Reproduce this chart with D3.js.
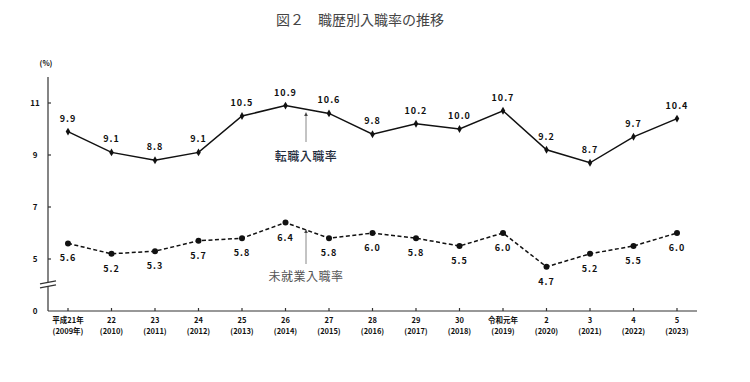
<!DOCTYPE html>
<html>
<head>
<meta charset="utf-8">
<script src="https://cdn.jsdelivr.net/npm/d3@7"></script>
<style>
  body { margin: 0; background: #fff; }
  svg { display: block; }
</style>
</head>
<body>
<svg width="750" height="382"></svg>
<script>
const years1 = ['平成21年', '22', '23', '24', '25', '26', '27', '28', '29', '30', '令和元年', '2', '3', '4', '5'];
const years2 = ['(2009年)', '(2010)', '(2011)', '(2012)', '(2013)', '(2014)', '(2015)', '(2016)',
  '(2017)', '(2018)', '(2019)', '(2020)', '(2021)', '(2022)', '(2023)'];
const tenshoku = [9.9, 9.1, 8.8, 9.1, 10.5, 10.9, 10.6, 9.8, 10.2, 10.0, 10.7, 9.2, 8.7, 9.7, 10.4];
const mishugyo = [5.6, 5.2, 5.3, 5.7, 5.8, 6.4, 5.8, 6.0, 5.8, 5.5, 6.0, 4.7, 5.2, 5.5, 6.0];
const yTicks = [0, 5, 7, 9, 11];

const svg = d3.select('svg');
const font = '"Noto Sans CJK JP", "Noto Sans", sans-serif';
const ink = '#111';

// axis break: 0 .. 4 squeezed, 4 .. 12 linear
const y = d3.scaleLinear().domain([0, 4, 12]).range([311, 285, 77]);
const x = d3.scalePoint().domain(d3.range(years1.length)).range([68, 677]);
const x0 = 48, x1 = 697;

svg.append('text')
  .attr('x', 360).attr('y', 25)
  .attr('text-anchor', 'middle')
  .attr('font-family', font)
  .attr('font-size', 14)
  .attr('fill', '#444')
  .text('図２　職歴別入職率の推移');

// y axis with break
const ax = svg.append('g').attr('stroke', '#333').attr('stroke-width', 1.2);
const brTop = y(4.1), brBot = y(3.8);
ax.append('line').attr('x1', x0).attr('x2', x0).attr('y1', y(12)).attr('y2', brTop);
ax.append('line').attr('x1', x0).attr('x2', x0).attr('y1', brBot).attr('y2', y(0));
[brTop, brBot].forEach(b => {
  ax.append('line')
    .attr('x1', x0 - 8).attr('x2', x0 + 8)
    .attr('y1', b + 1.5).attr('y2', b - 1.5);
});
ax.append('line').attr('x1', x0).attr('x2', x1).attr('y1', y(0)).attr('y2', y(0));

yTicks.forEach(t => {
  if (t > 0) {
    ax.append('line').attr('x1', x0).attr('x2', x0 + 3).attr('y1', y(t)).attr('y2', y(t));
  }
  svg.append('text')
    .attr('x', 35).attr('y', y(t) + 3)
    .attr('text-anchor', 'middle')
    .attr('font-family', font)
    .attr('font-weight', 700)
    .attr('font-size', 8)
    .attr('fill', ink)
    .text(t);
});
svg.append('text')
  .attr('x', 46).attr('y', 66)
  .attr('text-anchor', 'middle')
  .attr('font-family', font)
  .attr('font-weight', 700)
  .attr('font-size', 7.5)
  .attr('fill', ink)
  .text('(%)');

// x ticks and labels
years1.forEach((d, i) => {
  ax.append('line').attr('x1', x(i)).attr('x2', x(i)).attr('y1', y(0)).attr('y2', y(0) - 3);
  const t = svg.append('text')
    .attr('text-anchor', 'middle')
    .attr('font-family', font)
    .attr('font-weight', 700)
    .attr('font-size', 7.5)
    .attr('fill', ink);
  t.append('tspan').attr('x', x(i)).attr('y', 323).text(d);
  t.append('tspan').attr('x', x(i)).attr('y', 334).text(years2[i]);
});

// series lines
const line = d3.line().x((d, i) => x(i)).y(d => y(d));
svg.append('path')
  .datum(tenshoku)
  .attr('d', line)
  .attr('fill', 'none')
  .attr('stroke', ink)
  .attr('stroke-width', 1.5);
svg.append('path')
  .datum(mishugyo)
  .attr('d', line)
  .attr('fill', 'none')
  .attr('stroke', ink)
  .attr('stroke-width', 1.5)
  .attr('stroke-dasharray', '4,2.5');

svg.append('g').selectAll('path')
  .data(tenshoku)
  .join('path')
  .attr('d', d3.symbol(d3.symbolDiamond, 18))
  .attr('transform', (d, i) => `translate(${x(i)},${y(d)})`)
  .attr('fill', ink);
svg.append('g').selectAll('circle')
  .data(mishugyo)
  .join('circle')
  .attr('cx', (d, i) => x(i))
  .attr('cy', d => y(d))
  .attr('r', 3)
  .attr('fill', ink);

function valueLabel (v, i, dy) {
  svg.append('text')
    .attr('x', x(i)).attr('y', y(v) + dy)
    .attr('text-anchor', 'middle')
    .attr('font-family', font)
    .attr('font-weight', 700)
    .attr('font-size', 9)
    .attr('letter-spacing', 1)
    .attr('fill', ink)
    .text(v.toFixed(1));
}
tenshoku.forEach((v, i) => valueLabel(v, i, -10));
mishugyo.forEach((v, i) => valueLabel(v, i, 18));

// series callouts
function callout (cx, yTop, yBot, label, ly, color, weight) {
  svg.append('line')
    .attr('x1', cx).attr('x2', cx).attr('y1', yTop + 2).attr('y2', yBot)
    .attr('stroke', '#888').attr('stroke-width', 1);
  svg.append('path')
    .attr('d', `M${cx},${yTop} L${cx - 1.8},${yTop + 4} L${cx + 1.8},${yTop + 4} Z`)
    .attr('fill', '#444');
  svg.append('text')
    .attr('x', cx).attr('y', ly)
    .attr('text-anchor', 'middle')
    .attr('font-family', font)
    .attr('font-weight', weight)
    .attr('font-size', 12)
    .attr('letter-spacing', 0.5)
    .attr('fill', color)
    .text(label);
}
callout(306, 112, 142, '転職入職率', 161, '#1e2b3c', 500);
callout(306, 229, 264, '未就業入職率', 281, '#555', 400);
</script>
</body>
</html>
